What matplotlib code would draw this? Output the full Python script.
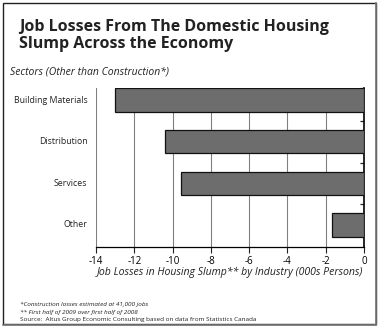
import numpy as np
import matplotlib as mpl
mpl.use('Agg')
import matplotlib.pyplot as plt
from matplotlib.patches import Rectangle
from matplotlib.lines import Line2D

plt.rcParams['font.family'] = ['Open Sans', 'DejaVu Sans']

# --- data
sectors = ['Building Materials', 'Distribution', 'Services', 'Other']
losses = [-13.0, -10.4, -9.55, -1.65]
xticks = [-14, -12, -10, -8, -6, -4, -2, 0]

W, H = 380, 328
fig = plt.figure(figsize=(W/100, H/100), dpi=100)

# frame around the whole picture
fig.add_artist(Rectangle((2.5/W, 1 - 324/H), 373/W, 321.5/H, transform=fig.transFigure,
                         fill=False, ec='#222222', lw=1.0))
fig.add_artist(Line2D([376/W, 376/W], [1 - 325/H, 1 - 3/H], transform=fig.transFigure,
                      color='#777777', lw=1.2))
fig.add_artist(Line2D([3/W, 376/W], [1 - 325/H, 1 - 325/H], transform=fig.transFigure,
                      color='#777777', lw=1.2))

ax = fig.add_axes([96/W, 1 - 247/H, 268/W, 159/H])

y = np.arange(len(sectors))
ax.barh(y, losses, height=0.56, color='#6d6d6d', edgecolor='#111111', lw=0.9, zorder=3)

ax.set_xlim(-14, 0)
ax.set_ylim(3.53, -0.29)
ax.set_xticks(xticks)
ax.set_xticklabels([str(t) for t in xticks], fontsize=7)
ax.grid(axis='x', color='#808080', lw=0.8, zorder=0)
ax.tick_params(axis='x', direction='out', length=4, width=0.8, color='#222222', pad=2.5)

# category labels on the left, boundary ticks on the right spine
ax.set_yticks([])
ax.set_yticks([-0.29, 0.5, 1.5, 2.5], minor=True)
ax.tick_params(axis='y', which='minor', left=False, right=True, direction='in',
               length=3, width=0.9, color='#222222')
for yi, name in zip(y, sectors):
    ax.text(-14.45, yi, name, ha='right', va='center', fontsize=6.3, color='#222222')

for side in ['top', 'left']:
    ax.spines[side].set_visible(False)
ax.spines['right'].set_linewidth(1.2)
ax.spines['bottom'].set_linewidth(0.9)

ax.set_xlabel('Job Losses in Housing Slump** by Industry (000s Persons)',
              fontsize=7.6, style='italic', labelpad=-0.5, color='#222222')

fig.text(19/W, 1 - 19/H, 'Job Losses From The Domestic Housing\nSlump Across the Economy',
         ha='left', va='top', fontsize=11.5, fontweight='bold', color='#222222',
         linespacing=1.05)
fig.text(10/W, 1 - 72/H, 'Sectors (Other than Construction*)', ha='left', va='center',
         fontsize=7.5, style='italic', color='#222222')

fig.text(20/W, 1 - 304/H, '*Construction losses estimated at 41,000 jobs',
         fontsize=4.6, style='italic', va='center', color='#222222')
fig.text(20/W, 1 - 312/H, '** First half of 2009 over first half of 2008',
         fontsize=4.6, style='italic', va='center', color='#222222')
fig.text(20/W, 1 - 320/H, 'Source:  Altus Group Economic Consulting based on data from Statistics Canada',
         fontsize=4.6, va='center', color='#222222')

fig.savefig('out.png', dpi=100)
